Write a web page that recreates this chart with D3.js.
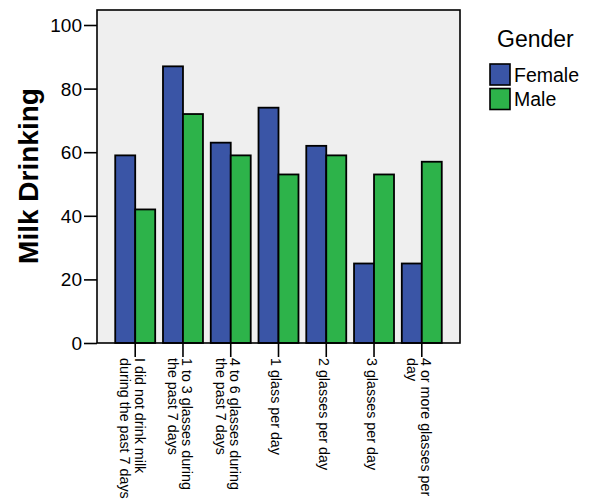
<!DOCTYPE html>
<html><head><meta charset="utf-8">
<script src="https://cdn.jsdelivr.net/npm/d3@7"></script>
<style>body{margin:0;background:#fff}svg{display:block}text{font-family:"Liberation Sans",Arial,sans-serif}</style>
</head><body>
<svg id="c" width="590" height="500"></svg>
<script>
const categories = ["I did not drink milk during the past 7 days","1 to 3 glasses during the past 7 days","4 to 6 glasses during the past 7 days","1 glass per day","2 glasses per day","3 glasses per day","4 or more glasses per day"];
const categoryLines = [["I did not drink milk","during the past 7 days"],["1 to 3 glasses during","the past 7 days"],["4 to 6 glasses during","the past 7 days"],["1 glass per day"],["2 glasses per day"],["3 glasses per day"],["4 or more glasses per","day"]];
const seriesNames = ["Female","Male"];
const female = [59,87,63,74,62,25,25];
const male = [42,72,59,53,59,53,57];
const yTicks = [0,20,40,60,80,100];
const colors = ["#3A55A6","#2DB34A"];

const svg = d3.select("#c");
const L=97,R=460,T=10,B=343;
svg.append("rect").attr("x",L).attr("y",T).attr("width",R-L).attr("height",B-T).attr("fill","#EFEFEF");

const x0 = d3.scaleBand().domain(categories).range([L,R]).paddingOuter(0.3).paddingInner(0);
const x1 = d3.scaleBand().domain(seriesNames).range([0,x0.bandwidth()]).paddingOuter(0.195).paddingInner(0);
const y = d3.scaleLinear().domain([0,100]).range([B,25]);
const color = d3.scaleOrdinal().domain(seriesNames).range(colors);

const data = categories.map((c,i)=>({cat:c, vals:[{s:"Female",v:female[i]},{s:"Male",v:male[i]}]}));
const g = svg.append("g");
g.selectAll("g.grp").data(data).join("g").attr("class","grp")
 .attr("transform",d=>`translate(${x0(d.cat)},0)`)
 .selectAll("rect").data(d=>d.vals).join("rect")
 .attr("x",d=>x1(d.s)).attr("width",x1.bandwidth())
 .attr("y",d=>y(d.v)).attr("height",d=>B-y(d.v))
 .attr("fill",d=>color(d.s)).attr("stroke","#000").attr("stroke-width",1.8);

// frame
svg.append("rect").attr("x",L).attr("y",T).attr("width",R-L).attr("height",B-T).attr("fill","none").attr("stroke","#000").attr("stroke-width",1.6);

// y axis
const ya = svg.append("g").attr("transform",`translate(${L},0)`)
 .call(d3.axisLeft(y).tickValues(yTicks).tickSize(13).tickPadding(2).tickSizeOuter(0));
ya.select(".domain").remove();
ya.selectAll("line").attr("stroke","#000").attr("stroke-width",1.6);
ya.selectAll("text").attr("font-size","19px").attr("fill","#000").attr("font-family","Liberation Sans, Arial, sans-serif").attr("dy","0.34em");

// x axis
const xa = svg.append("g").attr("transform",`translate(0,${B})`)
 .call(d3.axisBottom(x0).tickSize(14).tickSizeOuter(0).tickFormat(""));
xa.select(".domain").remove();
xa.selectAll("line").attr("stroke","#000").attr("stroke-width",1.6);
xa.selectAll("g.tick").each(function(d,i){
  const lines = categoryLines[i];
  const n = lines.length;
  const t = d3.select(this).append("text")
    .attr("transform","translate(0,15) rotate(90)")
    .attr("text-anchor","start").attr("font-size","14.3px").attr("fill","#000");
  lines.forEach((ln,j)=>{
    t.append("tspan").attr("x",0).attr("y",7.5-(n-1)*7+j*14.5).text(ln);
  });
});

// y title
svg.append("text").attr("transform",`translate(38,176) rotate(-90)`).attr("text-anchor","middle")
 .attr("font-size","28px").attr("font-weight","bold").text("Milk Drinking");

// legend
svg.append("text").attr("x",497).attr("y",47).attr("font-size","23px").text("Gender");
seriesNames.forEach((s,i)=>{
  const yy = 64 + i*24.5;
  svg.append("rect").attr("x",490).attr("y",yy).attr("width",20).attr("height",21)
    .attr("fill",color(s)).attr("stroke","#000").attr("stroke-width",1.6);
  svg.append("text").attr("x",514).attr("y",yy+17.5).attr("font-size","19.5px").text(s);
});
</script>
</body></html>
